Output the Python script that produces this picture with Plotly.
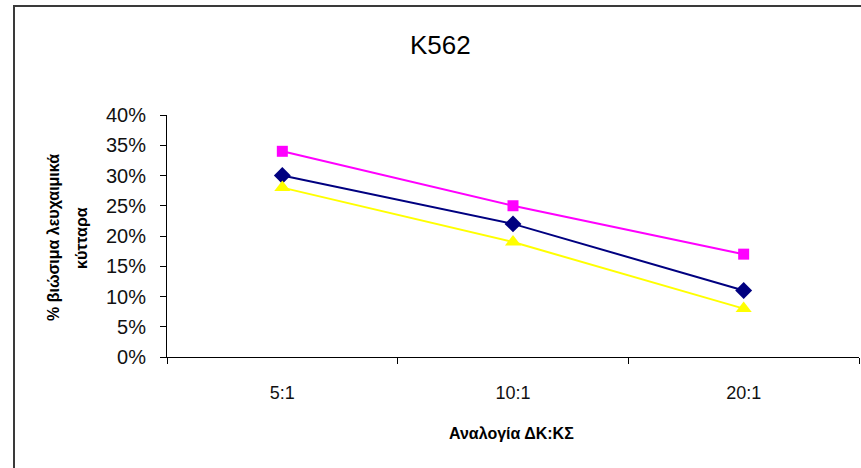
import plotly.graph_objects as go

categories = ["5:1", "10:1", "20:1"]
series_pink = [0.34, 0.25, 0.17]
series_navy = [0.30, 0.22, 0.11]
series_yellow = [0.28, 0.19, 0.08]
y_ticks = [0, 0.05, 0.10, 0.15, 0.20, 0.25, 0.30, 0.35, 0.40]
title_text = "K562"
x_title = "Αναλογία ΔΚ:ΚΣ"
y_title_1 = "% βιώσιμα λευχαιμικά"
y_title_2 = "κύτταρα"

W, H = 861, 468
L, R, T, B = 167, 2, 115, 111
pw = W - L - R
ph = H - T - B

def px(x):
    return (x - L) / pw

def py(y):
    return (H - B - y) / ph

FONT = "Liberation Sans, Arial, sans-serif"

fig = go.Figure()
fig.add_trace(go.Scatter(x=categories, y=series_pink, mode="lines+markers",
                         line=dict(color="#FF00FF", width=2),
                         marker=dict(symbol="square", size=11, color="#FF00FF")))
fig.add_trace(go.Scatter(x=categories, y=series_navy, mode="lines+markers",
                         line=dict(color="#000080", width=2),
                         marker=dict(symbol="diamond", size=13, color="#000080")))
fig.add_trace(go.Scatter(x=categories, y=series_yellow, mode="lines+markers",
                         line=dict(color="#FFFF00", width=2),
                         marker=dict(symbol="triangle-up", size=14, color="#FFFF00")))

fig.update_layout(
    width=W, height=H,
    margin=dict(l=L, r=R, t=T, b=B, pad=0),
    paper_bgcolor="white", plot_bgcolor="white",
    showlegend=False,
    font=dict(family=FONT, color="#000000"),
    xaxis=dict(type="category", range=[-0.5, 2.5], showgrid=False, zeroline=False,
               showline=True, linecolor="#000000", linewidth=1,
               ticks="outside", tickson="boundaries", ticklen=6, tickcolor="#000000",
               tickfont=dict(size=18, family=FONT, color="#111111"),
               ticklabelstandoff=19),
    yaxis=dict(range=[0, 0.40], tickvals=y_ticks, tickformat=".0%",
               showgrid=False, zeroline=False,
               showline=True, linecolor="#000000", linewidth=1,
               ticks="outside", ticklen=6, tickcolor="#000000",
               tickfont=dict(size=20, family=FONT, color="#111111"),
               ticklabelstandoff=10),
    shapes=[dict(type="rect", xref="paper", yref="paper",
                 x0=px(14), x1=px(900), y0=py(520), y1=py(6),
                 line=dict(color="#3a3a3a", width=2), fillcolor="rgba(0,0,0,0)",
                 layer="below")],
    annotations=[
        dict(text=title_text, xref="paper", yref="paper", x=px(440), y=py(45),
             xanchor="center", yanchor="middle", showarrow=False,
             font=dict(size=26, family=FONT, color="#000000")),
        dict(text="<b>" + x_title + "</b>", xref="paper", yref="paper", x=px(511), y=py(433),
             xanchor="center", yanchor="middle", showarrow=False,
             font=dict(size=16, family=FONT, color="#000000")),
        dict(text="<b>" + y_title_1 + "</b>", xref="paper", yref="paper", x=px(53), y=py(238),
             xanchor="center", yanchor="middle", showarrow=False, textangle=-90,
             font=dict(size=16, family=FONT, color="#000000")),
        dict(text="<b>" + y_title_2 + "</b>", xref="paper", yref="paper", x=px(81), y=py(238),
             xanchor="center", yanchor="middle", showarrow=False, textangle=-90,
             font=dict(size=16, family=FONT, color="#000000")),
    ],
)

fig.write_html("out.html")
